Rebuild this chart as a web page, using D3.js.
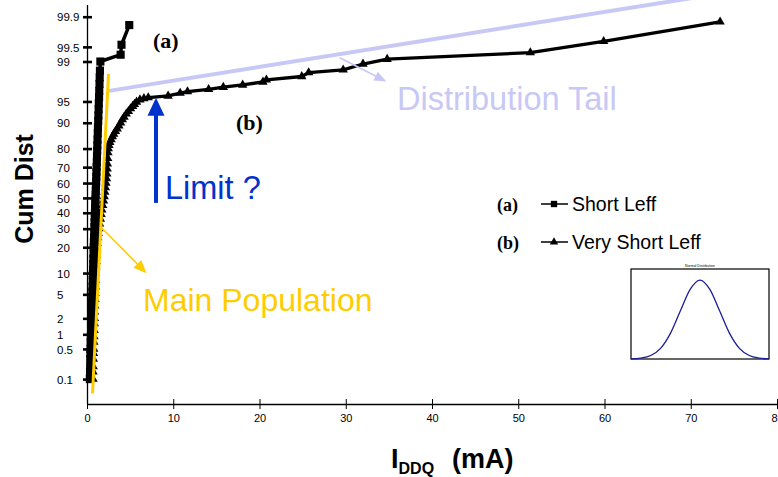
<!DOCTYPE html>
<html>
<head>
<meta charset="utf-8">
<script src="https://cdn.jsdelivr.net/npm/d3@7"></script>
<style>
  body { margin: 0; background: #fff; }
  svg { display: block; }
</style>
</head>
<body>
<svg id="chart" width="778" height="477"></svg>
<script>
// Cumulative distribution of IDDQ, [current in mA, cumulative %]
const shortLeff = [
  [0.33,0.1],[0.35,0.15],[0.37,0.2],[0.38,0.3],[0.4,0.4],[0.41,0.5],[0.43,0.7],[0.45,0.9],
  [0.47,1.2],[0.49,1.5],[0.51,2],[0.53,2.5],[0.55,3],[0.57,3.7],[0.6,4.5],[0.62,5.5],
  [0.64,6.5],[0.66,8],[0.68,9.5],[0.7,11],[0.72,13],[0.74,15],[0.76,17],[0.78,20],
  [0.8,22.5],[0.82,25],[0.84,28],[0.86,31],[0.88,34],[0.9,37],[0.92,40],[0.94,43],
  [0.96,46],[0.98,49],[1.0,52],[1.02,55],[1.04,58],[1.06,61],[1.08,64],[1.1,67],
  [1.12,70],[1.14,73],[1.16,76],[1.18,79],[1.2,81.5],[1.22,84],[1.25,86.5],[1.27,88.5],
  [1.3,90.5],[1.32,92],[1.35,93.5],[1.37,94.7],[1.4,95.7],[1.42,96.6],[1.45,97.4],
  [1.47,98],[1.5,98.5],[1.55,99],[3.9,99.27],[4.0,99.55],[4.9,99.84]
];
const veryShortLeff = [
  [0.7,0.1],[0.71,0.15],[0.72,0.2],[0.74,0.3],[0.76,0.4],[0.78,0.5],[0.8,0.7],[0.81,0.9],
  [0.83,1.2],[0.85,1.6],[0.86,2],[0.88,2.6],[0.9,3.3],[0.92,4.2],[0.94,5.2],[0.96,6.5],
  [0.98,8],[1.0,10],[1.03,12],[1.06,14],[1.09,16.5],[1.13,19],[1.18,22],[1.24,25],
  [1.3,27.5],[1.38,30],[1.46,33],[1.55,36],[1.63,39],[1.72,42],[1.82,45],[1.92,48],
  [2.0,51],[2.07,54],[2.14,57],[2.2,60],[2.26,63],[2.3,66],[2.34,69],[2.37,72],[2.4,75],
  [2.43,78],[2.47,80],[2.55,81.5],[2.65,82.8],[2.8,84],[2.95,85.2],[3.1,86.2],[3.3,87.2],
  [3.5,88.1],[3.7,89.1],[3.9,90],[4.1,90.9],[4.3,91.6],[4.55,92.4],[4.8,93],[5.05,93.6],
  [5.3,94.1],[5.5,94.5],[5.75,94.9],[6.14,95.3],[6.6,95.5],[7.1,95.65],[9.4,95.9],
  [10.8,96.3],[11.65,96.5],[14.1,96.8],[15.8,97.05],[18.05,97.3],[20.4,97.6],[20.8,97.8],
  [24.9,98.08],[25.7,98.37],[29.7,98.55],[32.0,98.88],[34.8,99.10],[51.4,99.34],
  [59.9,99.62],[73.4,99.866]
];
const yTicks = [0.1,0.5,1,2,5,10,20,30,40,50,60,70,80,90,95,99,99.5,99.9];
const xTicks = [0,10,20,30,40,50,60,70,80];

// Annotation guides, [mA, cumulative %]
const mainPopLine = [[0.64,0.043],[2.49,98.28]];
const tailLine = [[2.55,96.6],[71.1,99.97]];
const mainPopArrow = [[1.7,30.4],[6.9,9.95]];
const tailArrow = [[29.3,99.16],[34.7,97.64]];
const limitArrow = [[8.0,46.6],[8.0,95.6]];

// Inset bell curve: sigma positions and relative height
const insetSigma = [-3.5,-3,-2.5,-2,-1.5,-1,-0.5,0,0.5,1,1.5,2,2.5,3,3.5];
const insetHeight = [0.002,0.011,0.044,0.135,0.325,0.607,0.882,1,0.882,0.607,0.325,0.135,0.044,0.011,0.002];

// Inverse standard normal CDF (Acklam's rational approximation)
function probit(p) {
  const a=[-3.969683028665376e+01,2.209460984245205e+02,-2.759285104469687e+02,1.383577518672690e+02,-3.066479806614716e+01,2.506628277459239e+00];
  const b=[-5.447609879822406e+01,1.615858368580409e+02,-1.556989798598866e+02,6.680131188771972e+01,-1.328068155288572e+01];
  const c=[-7.784894002430293e-03,-3.223964580411365e-01,-2.400758277161838e+00,-2.549671010779880e+00,4.374664141464968e+00,2.938163982698783e+00];
  const d=[7.784695709041462e-03,3.224671290700398e-01,2.445134137142996e+00,3.754408661907416e+00];
  const pl = 0.02425, ph = 1 - pl;
  let q, r;
  if (p < pl) {
    q = Math.sqrt(-2*Math.log(p));
    return (((((c[0]*q+c[1])*q+c[2])*q+c[3])*q+c[4])*q+c[5])/((((d[0]*q+d[1])*q+d[2])*q+d[3])*q+1);
  }
  if (p <= ph) {
    q = p - 0.5; r = q*q;
    return (((((a[0]*r+a[1])*r+a[2])*r+a[3])*r+a[4])*r+a[5])*q/(((((b[0]*r+b[1])*r+b[2])*r+b[3])*r+b[4])*r+1);
  }
  q = Math.sqrt(-2*Math.log(1-p));
  return -(((((c[0]*q+c[1])*q+c[2])*q+c[3])*q+c[4])*q+c[5])/((((d[0]*q+d[1])*q+d[2])*q+d[3])*q+1);
}

const svg = d3.select("#chart");
svg.append("rect").attr("width", 778).attr("height", 477).attr("fill", "#fff");

const x = d3.scaleLinear().domain([0, 80]).range([87, 777]);
const z = d3.scaleLinear().domain([-3.515, 3.29]).range([404, 5]);
const y = pct => z(probit(pct / 100));
const pt = d => [x(d[0]), y(d[1])];

const SANS = "Arial, 'Liberation Sans', sans-serif";
const SERIF = "'Times New Roman', 'Liberation Serif', serif";
const YELLOW = "#FFCC00", LAVENDER = "#C8C8F6", BLUE = "#0033CC";

// ----- axes -----
const yAxis = d3.axisLeft(z)
  .tickValues(yTicks.map(t => probit(t / 100)))
  .tickFormat((v, i) => String(yTicks[i]))
  .tickSizeOuter(0).tickSizeInner(0);
const gy = svg.append("g").attr("transform", "translate(87.5,0)").call(yAxis);
gy.select(".domain").attr("stroke", "#000").attr("stroke-width", 1.3).attr("d", "M0,5V404");
gy.selectAll(".tick line").attr("x1", -4.5).attr("x2", 4.5).attr("stroke", "#000").attr("stroke-width", 2.6);
gy.selectAll(".tick text")
  .attr("x", -30.5).attr("text-anchor", "start").attr("dy", "0.36em")
  .attr("font-family", SANS).attr("font-size", 11.5).attr("fill", "#000");

const xAxis = d3.axisBottom(x).tickValues(xTicks).tickSizeOuter(0).tickSizeInner(0);
const gx = svg.append("g").attr("transform", "translate(0,404)").call(xAxis);
gx.select(".domain").attr("stroke", "#000").attr("stroke-width", 1.3);
gx.selectAll(".tick line").attr("y1", -5).attr("y2", 5).attr("stroke", "#000").attr("stroke-width", 1);
gx.selectAll(".tick text").attr("y", 10).attr("dy", "0.71em")
  .attr("font-family", SANS).attr("font-size", 11).attr("fill", "#000");

// ----- distribution tail guide (behind data) -----
const line = d3.line().x(d => x(d[0])).y(d => y(d[1]));
svg.append("path").datum(tailLine).attr("d", line)
  .attr("stroke", LAVENDER).attr("stroke-width", 4).attr("fill", "none");

// ----- series -----
function drawSeries(data, marker, lineWidth, markSize) {
  const g = svg.append("g");
  g.append("path").datum(data).attr("d", line)
    .attr("stroke", "#000").attr("stroke-width", lineWidth).attr("fill", "none")
    .attr("stroke-linejoin", "round");
  const sym = d3.symbol().type(marker === "square" ? d3.symbolSquare : d3.symbolTriangle).size(markSize);
  g.selectAll("path.m").data(data).join("path").attr("class", "m")
    .attr("transform", d => `translate(${x(d[0])},${y(d[1])})`)
    .attr("d", sym).attr("fill", "#000");
}
drawSeries(veryShortLeff, "triangle", 3.3, 38);
drawSeries(shortLeff, "square", 3.5, 66);

// ----- main population guide -----
svg.append("path").datum(mainPopLine).attr("d", line)
  .attr("stroke", YELLOW).attr("stroke-width", 3).attr("fill", "none");

function arrow(seg, color, w, headLen, headW) {
  const [x0, y0] = pt(seg[0]), [x1, y1] = pt(seg[1]);
  const ang = Math.atan2(y1 - y0, x1 - x0);
  const bx = x1 - headLen * Math.cos(ang), by = y1 - headLen * Math.sin(ang);
  const nx = -Math.sin(ang) * headW / 2, ny = Math.cos(ang) * headW / 2;
  svg.append("line").attr("x1", x0).attr("y1", y0).attr("x2", bx + Math.cos(ang)).attr("y2", by + Math.sin(ang))
    .attr("stroke", color).attr("stroke-width", w);
  svg.append("path")
    .attr("d", `M${x1},${y1}L${bx + nx},${by + ny}L${bx - nx},${by - ny}Z`)
    .attr("fill", color);
}
arrow(mainPopArrow, YELLOW, 1.6, 13, 11);
arrow(tailArrow, LAVENDER, 1.6, 12, 10);
arrow(limitArrow, BLUE, 4, 18, 17);

// ----- annotation text -----
function text(xp, yp, s, opts) {
  return svg.append("text").attr("x", xp).attr("y", yp).text(s)
    .attr("font-family", opts.family || SANS).attr("font-size", opts.size)
    .attr("font-weight", opts.weight || "normal").attr("fill", opts.fill || "#000")
    .attr("text-anchor", opts.anchor || "start");
}
text(143, 311, "Main Population", { size: 32, fill: YELLOW });
text(397, 110, "Distribution Tail", { size: 32.5, fill: LAVENDER });
text(165, 199, "Limit ?", { size: 32.5, fill: BLUE });
text(153, 48, "(a)", { size: 22, family: SERIF, weight: "bold" });
text(236, 130, "(b)", { size: 22, family: SERIF, weight: "bold" });

// ----- legend -----
const legend = [
  { tag: "(a)", label: "Short Leff", marker: d3.symbolSquare, size: 40, yy: 204 },
  { tag: "(b)", label: "Very Short Leff", marker: d3.symbolTriangle, size: 30, yy: 242 }
];
legend.forEach(l => {
  text(497, l.yy + 7, l.tag, { size: 18, family: SERIF, weight: "bold" });
  svg.append("line").attr("x1", 541).attr("x2", 568).attr("y1", l.yy).attr("y2", l.yy)
    .attr("stroke", "#000").attr("stroke-width", 1.5);
  svg.append("path").attr("d", d3.symbol().type(l.marker).size(l.size))
    .attr("transform", `translate(554,${l.yy})`).attr("fill", "#000");
  text(572, l.yy + 7, l.label, { size: 19.5 });
});

// ----- axis titles -----
svg.append("text").attr("transform", "translate(33,189) rotate(-90)")
  .attr("text-anchor", "middle").attr("font-family", SANS).attr("font-size", 25)
  .attr("font-weight", "bold").text("Cum Dist");
const xt = svg.append("text").attr("x", 391).attr("y", 468)
  .attr("font-family", SANS).attr("font-weight", "bold").attr("font-size", 27);
xt.append("tspan").text("I");
xt.append("tspan").attr("font-size", 16).attr("dy", 6).text("DDQ");
xt.append("tspan").attr("dy", -6).attr("dx", 18).text("(mA)");

// ----- inset: normal distribution sketch -----
const ix = d3.scaleLinear().domain([-3.5, 3.5]).range([631, 769]);
const iy = d3.scaleLinear().domain([0, 1.14]).range([359, 269]);
svg.append("rect").attr("x", 631).attr("y", 269).attr("width", 138).attr("height", 90)
  .attr("fill", "#fff").attr("stroke", "#000").attr("stroke-width", 1.2);
svg.append("path")
  .datum(insetSigma.map((s, i) => [s, insetHeight[i]]))
  .attr("d", d3.line().x(d => ix(d[0])).y(d => iy(d[1])).curve(d3.curveCardinal))
  .attr("fill", "none").attr("stroke", "#1c1c96").attr("stroke-width", 1.3);
svg.append("text").attr("x", 700).attr("y", 267).attr("text-anchor", "middle")
  .attr("font-family", SANS).attr("font-size", 3.5).attr("fill", "#000").text("Normal Distribution");
</script>
</body>
</html>
